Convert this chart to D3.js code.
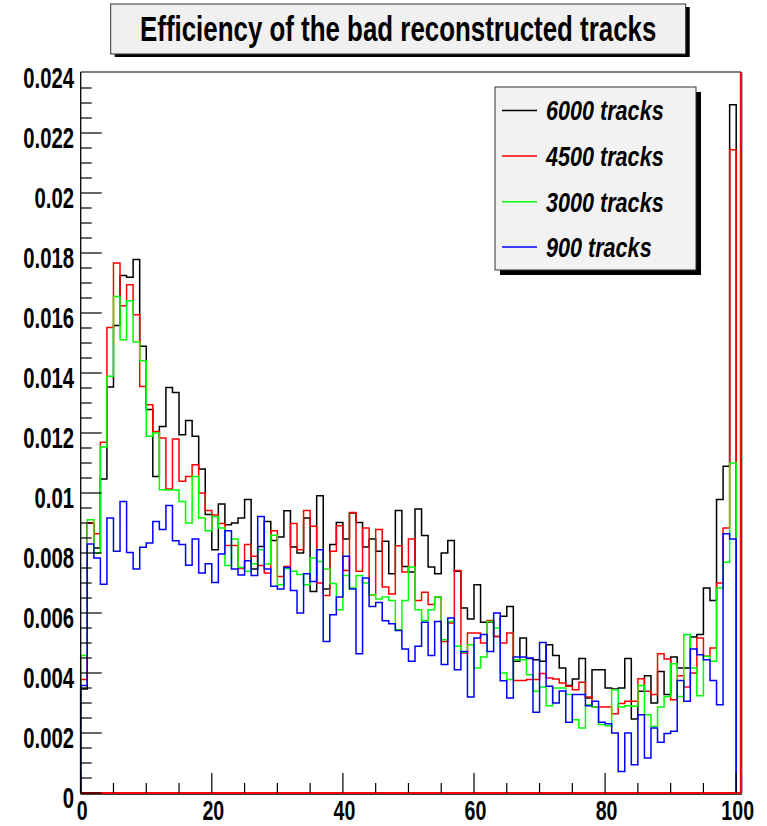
<!DOCTYPE html>
<html>
<head>
<meta charset="utf-8">
<script src="https://cdn.jsdelivr.net/npm/d3@7"></script>
<style>
  html, body { margin: 0; padding: 0; background: #ffffff; }
  svg { display: block; }
</style>
</head>
<body>
<svg id="chart" width="767" height="826"></svg>
<script>
// ---------------- DATA ----------------
const chartTitle = "Efficiency of the bad reconstructed tracks";
const seriesNames = ["6000 tracks", "4500 tracks", "3000 tracks", "900 tracks"];
const seriesColors = ["#000000", "#ff0000", "#00ff00", "#0000ff"];
const xRange = [0, 100];
const nBins = 100;
const xTickValues = [0, 20, 40, 60, 80, 100];
const xTickLabels = ["0", "20", "40", "60", "80", "100"];
const yTickValues = [0, 0.002, 0.004, 0.006, 0.008, 0.010, 0.012, 0.014, 0.016, 0.018, 0.020, 0.022, 0.024];
const yTickLabels = ["0", "0.002", "0.004", "0.006", "0.008", "0.01", "0.012", "0.014", "0.016", "0.018", "0.02", "0.022", "0.024"];

const tracks6000 = [
  0.00347, 0.0090, 0.00817, 0.01047, 0.01353, 0.01558, 0.01725, 0.01719, 0.01778, 0.01489,
  0.01278, 0.01055, 0.01222, 0.01352, 0.01335, 0.01194, 0.01242, 0.01189, 0.0108, 0.00928,
  0.00811, 0.00963, 0.00894, 0.0090, 0.00917, 0.00978, 0.00747, 0.00822, 0.00905, 0.00842,
  0.00853, 0.00941, 0.0082, 0.0080, 0.00917, 0.00672, 0.00991, 0.0068, 0.00828, 0.00902,
  0.00847, 0.00933, 0.00902, 0.0082, 0.00847, 0.00806, 0.00839, 0.00731, 0.00942, 0.00755,
  0.00737, 0.00947, 0.00858, 0.00753, 0.00731, 0.0080, 0.00842, 0.00739, 0.00617, 0.0058,
  0.00694, 0.00569, 0.0057, 0.00522, 0.00589, 0.00622, 0.00439, 0.00517, 0.00448, 0.00444,
  0.00439, 0.00494, 0.00458, 0.00417, 0.00358, 0.0038, 0.00448, 0.00317, 0.00411, 0.00411,
  0.0035, 0.00347, 0.0035, 0.00448, 0.00247, 0.00339, 0.00391, 0.0030, 0.00405, 0.00328,
  0.00453, 0.00417, 0.00417, 0.0052, 0.00528, 0.00683, 0.00642, 0.00978, 0.01089, 0.02294
];
const tracks4500 = [
  0.00378, 0.0090, 0.00864, 0.01169, 0.01552, 0.01767, 0.01624, 0.01694, 0.01594, 0.01355,
  0.01294, 0.01205, 0.01183, 0.01013, 0.0118, 0.01039, 0.01055, 0.01094, 0.0100, 0.00942,
  0.00927, 0.00898, 0.00825, 0.00825, 0.00748, 0.00828, 0.00789, 0.00758, 0.00733, 0.00874,
  0.00722, 0.00755, 0.00898, 0.00811, 0.00942, 0.00889, 0.0070, 0.00658, 0.00806, 0.00891,
  0.00742, 0.00935, 0.00739, 0.00883, 0.00661, 0.00878, 0.00687, 0.00663, 0.00824, 0.00737,
  0.00847, 0.00642, 0.00669, 0.00628, 0.00653, 0.00505, 0.00567, 0.00742, 0.00467, 0.00533,
  0.00533, 0.0050, 0.00575, 0.00522, 0.0050, 0.00533, 0.00375, 0.00375, 0.00378, 0.00378,
  0.00398, 0.00383, 0.0038, 0.00367, 0.00356, 0.00344, 0.00369, 0.0032, 0.00287, 0.00287,
  0.00287, 0.00264, 0.00298, 0.00306, 0.00306, 0.00381, 0.00339, 0.00328, 0.00464, 0.00447,
  0.00311, 0.00391, 0.00353, 0.0040, 0.00517, 0.00456, 0.00483, 0.0070, 0.00883, 0.02144
];
const tracks3000 = [
  0.00458, 0.00911, 0.0080, 0.01153, 0.01389, 0.01655, 0.01511, 0.01641, 0.01503, 0.01441,
  0.01189, 0.0120, 0.01011, 0.0101, 0.0101, 0.00972, 0.0090, 0.01055, 0.00917, 0.00874,
  0.00922, 0.00883, 0.00758, 0.00847, 0.00752, 0.00739, 0.00764, 0.00811, 0.00763, 0.00859,
  0.00694, 0.00748, 0.00739, 0.00728, 0.00694, 0.00783, 0.00772, 0.00747, 0.00698, 0.00611,
  0.00725, 0.00683, 0.00725, 0.0070, 0.00661, 0.00647, 0.00653, 0.00642, 0.00544, 0.00642,
  0.00753, 0.00611, 0.00575, 0.00611, 0.00653, 0.00511, 0.00572, 0.00489, 0.00469, 0.00494,
  0.00417, 0.00453, 0.00572, 0.0055, 0.0040, 0.00378, 0.00444, 0.00444, 0.00394, 0.00339,
  0.00353, 0.00291, 0.0035, 0.0035, 0.00328, 0.00244, 0.00217, 0.00294, 0.00287, 0.00228,
  0.00224, 0.00344, 0.00287, 0.00291, 0.00289, 0.00358, 0.00261, 0.00222, 0.00287, 0.00322,
  0.00431, 0.00322, 0.00528, 0.00417, 0.00324, 0.00456, 0.00439, 0.00683, 0.00769, 0.0110
];
const tracks900 = [
  0.00358, 0.0083, 0.00783, 0.00696, 0.00917, 0.00806, 0.00972, 0.00802, 0.00747, 0.00819,
  0.00833, 0.00905, 0.00878, 0.00958, 0.00841, 0.00828, 0.00759, 0.00847, 0.00733, 0.00764,
  0.00702, 0.00797, 0.00874, 0.00747, 0.00727, 0.00774, 0.00725, 0.00922, 0.00747, 0.00689,
  0.0068, 0.00752, 0.00675, 0.0060, 0.00731, 0.00705, 0.00811, 0.00505, 0.00594, 0.00653,
  0.00789, 0.0068, 0.00464, 0.00717, 0.00622, 0.00635, 0.00574, 0.00564, 0.00542, 0.0048,
  0.00439, 0.00489, 0.00569, 0.00458, 0.00572, 0.00428, 0.00583, 0.00411, 0.00472, 0.0032,
  0.00517, 0.00528, 0.00472, 0.0060, 0.00374, 0.00317, 0.00453, 0.00453, 0.0045, 0.00269,
  0.00502, 0.00356, 0.0030, 0.0034, 0.00236, 0.00328, 0.00328, 0.00291, 0.00306, 0.00236,
  0.00231, 0.0020, 0.00072, 0.0020, 0.00094, 0.00261, 0.00117, 0.00217, 0.00169, 0.00198,
  0.00206, 0.00375, 0.00306, 0.0048, 0.00461, 0.00444, 0.00375, 0.00294, 0.00864, 0.00847
];
const seriesValues = [tracks6000, tracks4500, tracks3000, tracks900];

// ---------------- LAYOUT ----------------
const svg = d3.select("#chart");
const frame = { left: 80.7, right: 741, top: 72, bottom: 793 };
const binWidthPx = 6.555;
const x = d3.scaleLinear().domain(xRange).range([frame.left, frame.left + binWidthPx * 100]);
const y = d3.scaleLinear().domain([0, 0.024]).range([frame.bottom, frame.bottom - 720]);
const font = "'Liberation Sans', Arial, Helvetica, sans-serif";

// Title box
const tb = { x: 110.7, y: 4, w: 575, h: 50 };
svg.append("rect").attr("x", tb.x + 4).attr("y", tb.y + 3).attr("width", tb.w).attr("height", tb.h).attr("fill", "#000");
svg.append("rect").attr("x", tb.x).attr("y", tb.y).attr("width", tb.w).attr("height", tb.h)
  .attr("fill", "#f0f0f0").attr("stroke", "#333").attr("stroke-width", 1);
svg.append("text")
  .attr("transform", `translate(${tb.x + tb.w / 2}, 41) scale(0.74, 1)`)
  .attr("text-anchor", "middle")
  .attr("font-family", font).attr("font-weight", "bold").attr("font-size", 35)
  .attr("fill", "#000").text(chartTitle);

// Histograms
const binEdges = d3.range(nBins + 1).map(i => xRange[0] + (xRange[1] - xRange[0]) * i / nBins);
const line = d3.line().curve(d3.curveStepAfter);
seriesValues.forEach((vals, k) => {
  const pts = [[x(binEdges[0]), y(0)]];
  vals.forEach((v, i) => pts.push([x(binEdges[i]), y(v)]));
  pts.push([x(binEdges[nBins]), y(vals[nBins - 1])]);
  pts.push([x(binEdges[nBins]), y(0)]);
  svg.append("path").attr("d", line(pts))
    .attr("fill", "none").attr("stroke", seriesColors[k]).attr("stroke-width", 1.5)
    .attr("stroke-linejoin", "miter");
});

// Frame
svg.append("line").attr("x1", frame.left).attr("x2", frame.right).attr("y1", frame.top).attr("y2", frame.top)
  .attr("stroke", "#000").attr("stroke-width", 1.2);
svg.append("line").attr("x1", frame.right + 0.8).attr("x2", frame.right + 0.8).attr("y1", frame.top).attr("y2", frame.bottom)
  .attr("stroke", "#000").attr("stroke-width", 1);
svg.append("line").attr("x1", frame.right - 0.6).attr("x2", frame.right - 0.6).attr("y1", frame.top).attr("y2", frame.bottom)
  .attr("stroke", "#ff0000").attr("stroke-width", 1.2);
svg.append("line").attr("x1", frame.left).attr("x2", frame.right + 1).attr("y1", frame.bottom + 1).attr("y2", frame.bottom + 1)
  .attr("stroke", "#000").attr("stroke-width", 1.5);
svg.append("line").attr("x1", frame.left).attr("x2", frame.right).attr("y1", frame.bottom).attr("y2", frame.bottom)
  .attr("stroke", "#ff0000").attr("stroke-width", 2);

// Y axis
const yAxis = svg.append("g");
yAxis.append("line").attr("x1", frame.left).attr("x2", frame.left).attr("y1", frame.top).attr("y2", frame.bottom + 1)
  .attr("stroke", "#000").attr("stroke-width", 1.3);
const yMinor = d3.range(0, 48).map(i => i * 0.0005);
yMinor.forEach(v => {
  const major = Math.abs(v / 0.002 - Math.round(v / 0.002)) < 1e-6;
  yAxis.append("line").attr("x1", frame.left).attr("x2", frame.left + (major ? 21 : 11))
    .attr("y1", y(v)).attr("y2", y(v)).attr("stroke", "#000").attr("stroke-width", 1.2);
});
yTickValues.forEach((v, i) => {
  yAxis.append("text")
    .attr("transform", `translate(74, ${y(v) + 14.5}) scale(0.7, 1)`)
    .attr("text-anchor", "end")
    .attr("font-family", font).attr("font-weight", "bold").attr("font-size", 29)
    .attr("fill", "#000").text(yTickLabels[i]);
});

// X axis
const xAxis = svg.append("g");
d3.range(0, 101, 5).forEach(v => {
  const major = v % 20 === 0;
  xAxis.append("line").attr("x1", x(v)).attr("x2", x(v)).attr("y1", frame.bottom).attr("y2", frame.bottom - (major ? 20 : 10))
    .attr("stroke", "#000").attr("stroke-width", 1.2);
});
xTickValues.forEach((v, i) => {
  xAxis.append("text")
    .attr("transform", `translate(${x(v) + 1.5}, 820) scale(0.7, 1)`)
    .attr("text-anchor", "middle")
    .attr("font-family", font).attr("font-weight", "bold").attr("font-size", 28)
    .attr("fill", "#000").text(xTickLabels[i]);
});

// Legend
const lg = { x: 495, y: 87, w: 201, h: 183 };
svg.append("rect").attr("x", lg.x + 5).attr("y", lg.y + 5).attr("width", lg.w).attr("height", lg.h).attr("fill", "#000");
svg.append("rect").attr("x", lg.x).attr("y", lg.y).attr("width", lg.w).attr("height", lg.h)
  .attr("fill", "#f2f2f2").attr("stroke", "#333").attr("stroke-width", 1);
const rowY = [110.5, 156, 201.7, 247];
seriesNames.forEach((name, k) => {
  svg.append("line").attr("x1", 502).attr("x2", 537).attr("y1", rowY[k]).attr("y2", rowY[k])
    .attr("stroke", seriesColors[k]).attr("stroke-width", 1.5);
  svg.append("text")
    .attr("transform", `translate(546, ${rowY[k] + 9.8}) scale(0.8, 1)`)
    .attr("font-family", font).attr("font-weight", "bold").attr("font-style", "italic").attr("font-size", 27)
    .attr("fill", "#000").text(name);
});
</script>
</body>
</html>
